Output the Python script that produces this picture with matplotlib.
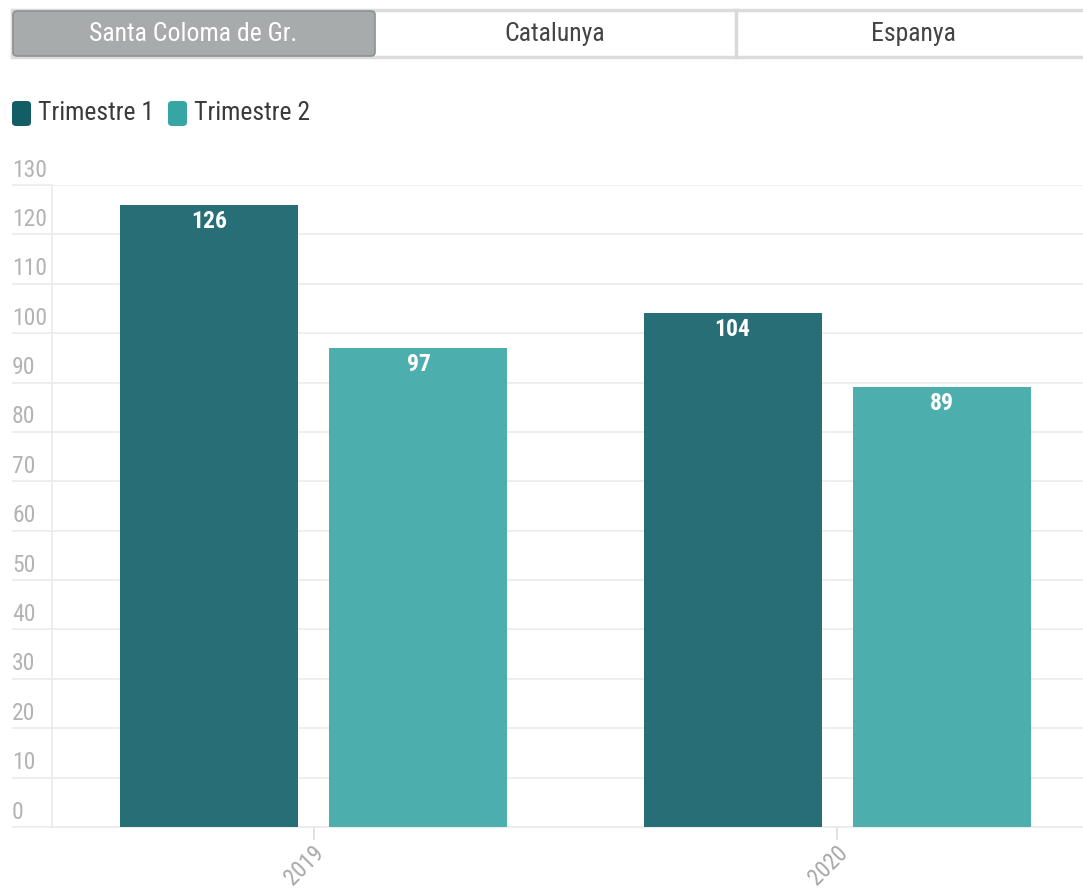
import numpy as np
import matplotlib.pyplot as plt
from matplotlib.patches import FancyBboxPatch, Rectangle
from matplotlib.transforms import blended_transform_factory, ScaledTranslation

# data
years = ["2019", "2020"]
series = ["Trimestre 1", "Trimestre 2"]
trim1 = [126, 104]
trim2 = [97, 89]
yticks = list(range(0, 140, 10))
tabs = ["Santa Coloma de Gr.", "Catalunya", "Espanya"]

bar_colors = ["#276e76", "#4caead"]
legend_colors = ["#135e64", "#35a6a3"]
grid_c = "#ebebeb"
font = ["Roboto Condensed", "Liberation Sans Narrow", "Roboto", "DejaVu Sans"]
plt.rcParams["font.family"] = font

W, H = 1083, 888
fig = plt.figure(figsize=(W / 100, H / 100), dpi=100)


def fx(px):
    return px / W


def fy(py):
    return 1 - py / H


# axes (right edge runs past the figure like the original)
ax = fig.add_axes([fx(52), fy(827), fx(1099 - 52), fy(185) - fy(827)])
x = np.arange(len(years))
w = 0.34
off = 0.2
for i, vals in enumerate([trim1, trim2]):
    pos = x + (i - 0.5) * 2 * off
    ax.bar(pos, vals, width=w, color=bar_colors[i], zorder=3)
    for p, v in zip(pos, vals):
        ax.annotate(str(v), (p, v), xytext=(0, -3.5), textcoords="offset points",
                    ha="center", va="top", color="white", fontsize=17,
                    fontweight="bold", zorder=4)

ax.set_xlim(-0.5, 1.5)
ax.set_ylim(0, 130)
ax.set_yticks(yticks)
ax.yaxis.grid(True, color=grid_c, linewidth=1.2, zorder=0)
ax.tick_params(axis="y", length=29, color=grid_c, width=1.2, labelleft=False)
for s in ["top", "right"]:
    ax.spines[s].set_visible(False)
ax.spines["left"].set_color(grid_c)
ax.spines["bottom"].set_color(grid_c)
ax.spines["left"].set_linewidth(1.2)
ax.spines["bottom"].set_linewidth(1.2)

tr = blended_transform_factory(fig.transFigure, ax.transData)
for t in yticks:
    ax.annotate(str(t), (fx(12), t), xycoords=tr, xytext=(0, 2.5),
                textcoords="offset points", ha="left", va="bottom",
                color="#b3b3b3", fontsize=17, annotation_clip=False)

ax.set_xticks(x)
ax.set_xticklabels(years, rotation=45, ha="right", va="center",
                   rotation_mode="anchor", color="#a8a8a8", fontsize=16.5)
ax.tick_params(axis="x", length=9, color="#dcdcdc", width=1.2, pad=7)
shift = ScaledTranslation(7 / 100, 0, fig.dpi_scale_trans)
for lab in ax.get_xticklabels():
    lab.set_transform(lab.get_transform() + shift)

# tabs on top
fig.add_artist(Rectangle((fx(12), fy(57)), fx(1100 - 12), fy(10) - fy(57),
                         facecolor="white", edgecolor="#dcdcdc", linewidth=2.5))
fig.add_artist(FancyBboxPatch((fx(13), fy(56)), fx(375 - 13), fy(11) - fy(56),
                              boxstyle="round,pad=0,rounding_size=0.004",
                              facecolor="#a8abac", edgecolor="#8e9193",
                              linewidth=1.2))
fig.add_artist(plt.Line2D([fx(736), fx(736)], [fy(57), fy(10)],
                          color="#d9d9d9", linewidth=2.5))
tab_centers = [193, 555, 913]
for name, cx in zip(tabs, tab_centers):
    col = "white" if name == tabs[0] else "#444444"
    fig.text(fx(cx), fy(34), name, ha="center", va="center", fontsize=18.5,
             color=col)

# legend
leg_x = [12, 168]
for name, c, lx in zip(series, legend_colors, leg_x):
    fig.add_artist(FancyBboxPatch((fx(lx), fy(126)), fx(19), fy(101) - fy(126),
                                  boxstyle="round,pad=0,rounding_size=0.004",
                                  facecolor=c, edgecolor="none"))
    fig.text(fx(lx + 26), fy(113), name, ha="left", va="center", fontsize=18.5,
             color="#3a3a3a")

fig.savefig("out.png", dpi=100)
